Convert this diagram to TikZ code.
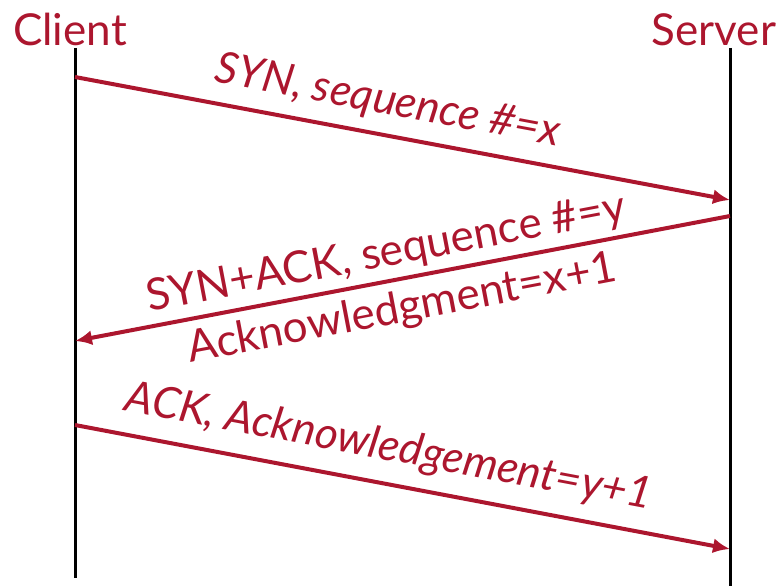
\documentclass[tikz,border=0pt]{standalone}
\usepackage{fontspec}
\setmainfont{Lato}
\usetikzlibrary{arrows.meta}
\definecolor{tcpred}{RGB}{172,22,46}
\begin{document}
\begin{tikzpicture}[x=1pt,y=-1pt,
  life/.style={line width=3pt,black},
  msg/.style={line width=4pt,tcpred,-{Latex[length=17pt,width=15pt]}},
  actor/.style={text=tcpred,font=\fontsize{44}{48}\selectfont,inner sep=0pt,anchor=base},
  lbl/.style={text=tcpred,font=\fontsize{44}{48}\selectfont,inner sep=0pt},
  ilbl/.style={lbl,font=\fontsize{44}{48}\selectfont\itshape}]
\useasboundingbox (0,0) rectangle (781,586);
\node[actor] (client) at (70,46) {Client};
\node[actor] (server) at (714,46) {Server};
\coordinate (ct) at (75,48);
\coordinate (cb) at (75,578);
\coordinate (st) at (730,48);
\coordinate (sb) at (730,586);
\draw[life] (ct) -- (cb);
\draw[life] (st) -- (sb);
\coordinate (a1s) at (75,77);
\coordinate (a1e) at (730,200);
\coordinate (a2s) at (730,216);
\coordinate (a2e) at (75,341);
\coordinate (a3s) at (75,425);
\coordinate (a3e) at (730,549);
\draw[msg] (a1s) -- (a1e);
\draw[msg] (a2s) -- (a2e);
\draw[msg] (a3s) -- (a3e);
\node[ilbl,rotate=-10.6] (l1) at (388,102) {SYN, sequence \#=x};
\node[lbl,rotate=10.8] (l2) at (386,254) {SYN+ACK, sequence \#=y};
\node[lbl,rotate=10.8] (l3) at (402,310) {Acknowledgment=x+1};
\node[ilbl,rotate=-10.7] (l4) at (389,448) {ACK, Acknowledgement=y+1};
\end{tikzpicture}
\end{document}
